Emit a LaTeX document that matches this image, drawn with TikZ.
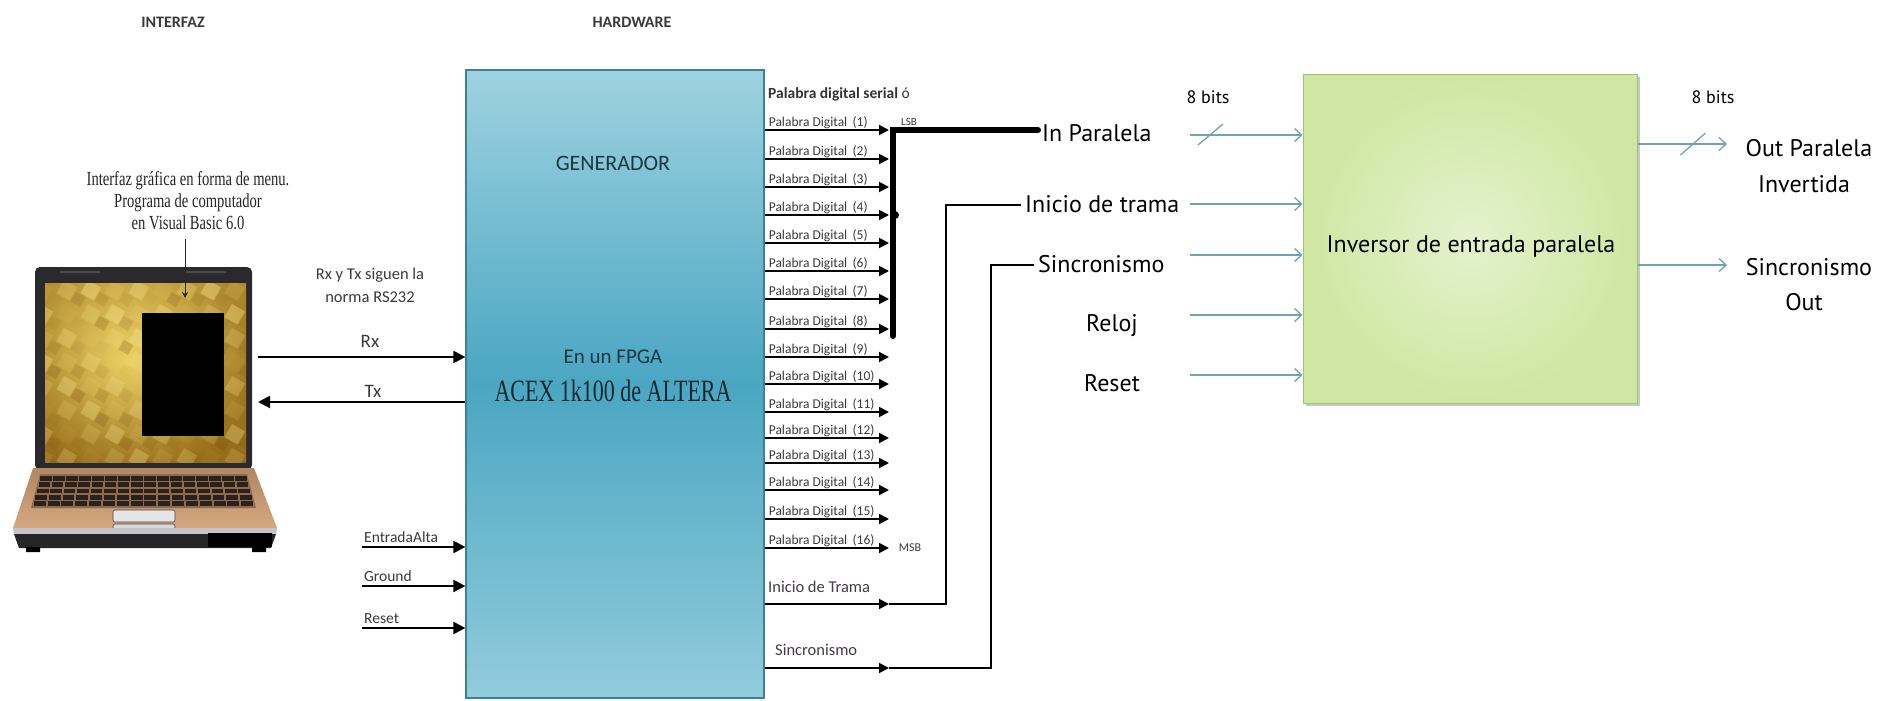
\documentclass[tikz,border=0pt]{standalone}
\usepackage{fontspec}
\setmainfont{Carlito}
\newfontfamily\serifface{Liberation Serif}
\newfontfamily\gillface{PT Sans}
\usetikzlibrary{arrows.meta,calc,shadows}
\newcommand{\fsz}[2]{\fontsize{#1}{#2}\selectfont}

\definecolor{fpgatop}{RGB}{158,210,224}
\definecolor{fpgamid}{RGB}{74,166,194}
\definecolor{fpgabot}{RGB}{146,204,220}
\definecolor{fpgaline}{RGB}{62,128,148}
\definecolor{fpgatext}{RGB}{28,56,66}
\definecolor{wireblue}{RGB}{112,162,180}
\definecolor{greenedge}{RGB}{206,231,162}
\definecolor{greencore}{RGB}{228,242,206}
\definecolor{greenline}{RGB}{158,194,110}
\definecolor{labelgray}{RGB}{58,58,62}
\definecolor{labelplum}{RGB}{70,58,74}
\definecolor{lidgray}{RGB}{42,42,46}
\definecolor{goldlight}{RGB}{248,222,110}
\definecolor{golddark}{RGB}{150,108,24}
\definecolor{tilelight}{RGB}{255,240,160}
\definecolor{tiledark}{RGB}{110,72,18}
\definecolor{bronzetop}{RGB}{176,134,100}
\definecolor{bronzebot}{RGB}{214,168,128}
\definecolor{keycol}{RGB}{44,32,26}
\definecolor{silver}{RGB}{196,196,200}

\begin{document}
\begin{tikzpicture}[x=1pt,y=-1pt,
  lbl/.style={inner sep=0, text=labelgray},
  gill/.style={font=\gillface\fsz{24}{28}, text=black, inner sep=4},
  gillsmall/.style={font=\gillface\fsz{18}{22}, text=black, inner sep=0},
  blkarrow/.style={draw=black, line width=1.8, -{Triangle[length=10pt,width=10pt]}},
  bigarrow/.style={draw=black, line width=2, -{Triangle[length=12pt,width=12pt]}},
  bluearrow/.style={draw=wireblue, line width=1.3, -{Straight Barb[length=7pt,width=13pt]}},
  bluetick/.style={draw=wireblue, line width=1.3},
  thinwire/.style={draw=black, line width=1.3},
  buswire/.style={draw=black, line width=6},
  fpgabox/.style={draw=fpgaline, line width=1.2, top color=fpgatop, bottom color=fpgabot,
    middle color=fpgamid, minimum width=298, minimum height=628, inner sep=0},
  invbox/.style={draw=greenline, line width=1, inner color=greencore, outer color=greenedge,
    minimum width=334, minimum height=329, inner sep=0,
    drop shadow={shadow xshift=3pt, shadow yshift=-3pt, opacity=0.35, fill=black!60}}]

\useasboundingbox (0,0) rectangle (1881,701);
\fill[white] (0,0) rectangle (1881,701);

% ---------- column titles ----------
\node[lbl, font=\bfseries\fsz{16}{18}, anchor=base] (tint) at (173,28) {INTERFAZ};
\node[lbl, font=\bfseries\fsz{16}{18}, anchor=base] (thw) at (632,28) {HARDWARE};

% ---------- laptop ----------
\node[inner sep=0, minimum width=217, minimum height=203] (lid) at (143.5,368.5) {};
\fill[lidgray, rounded corners=5] (35,267) rectangle (252,470);
\fill[gray!60!black] (60,271) rectangle (100,273) (186,271) rectangle (226,273);
\begin{scope}
  \clip (45,283) rectangle (246,462);
  \shade[inner color=goldlight, outer color=golddark] (10,240) rectangle (250,480);
  \foreach \i in {0,...,9} { \foreach \j in {0,...,8} {
    \pgfmathsetmacro{\oa}{0.06+0.32*mod(\i*7+\j*3,5)/4}
    \fill[tilelight, opacity=\oa, rotate around={-30:({40+\i*24},{280+\j*24})}]
      ({40+\i*24},{280+\j*24}) rectangle ++(15,15);
    \pgfmathsetmacro{\ob}{0.04+0.25*mod(\i*3+\j*5,4)/3}
    \fill[tiledark, opacity=\ob, rotate around={-30:({52+\i*24},{292+\j*24})}]
      ({52+\i*24},{292+\j*24}) rectangle ++(11,11);
  }}
  \shade[top color=goldlight, bottom color=golddark, opacity=0.25] (45,283) rectangle (246,462);
\end{scope}
\fill[black] (142,313) rectangle (224,436);
% base and keyboard
\shade[top color=bronzetop, bottom color=bronzebot] (33,468) -- (254,468) -- (277,528) -- (13,528) -- cycle;
\fill[bronzetop!80!black] (40,474) -- (247,474) -- (256,508) -- (31,508) -- cycle;
\foreach \r in {0,...,4} {
  \pgfmathsetmacro{\ya}{476+\r*6.3}
  \pgfmathsetmacro{\yb}{\ya+4.6}
  \pgfmathsetmacro{\xl}{40-9*(\ya-474)/34}
  \pgfmathsetmacro{\xr}{247+9*(\ya-474)/34}
  \pgfmathsetmacro{\kw}{(\xr-\xl)/16}
  \foreach \c in {0,...,15} {
    \fill[keycol] ({\xl+\c*\kw+0.9},\ya) rectangle ({\xl+(\c+1)*\kw-0.9},\yb);
  }
}
\fill[gray!20, rounded corners=2] (113,510) rectangle (175,522);
\draw[gray!55!black, rounded corners=2, line width=0.6] (113,510) rectangle (175,522);
\fill[gray!30, rounded corners=2] (113,524) rectangle (175,529);
\draw[gray!55!black, rounded corners=2, line width=0.6] (113,524) rectangle (175,529);
\fill[silver] (13,528) -- (277,528) -- (276,534) -- (14,534) -- cycle;
\fill[black!85] (14,534) -- (276,534) -- (271,548) -- (19,548) -- cycle;
\fill[black] (208,533) rectangle (272,547);
\fill[black] (26,547) rectangle (40,552) (252,547) rectangle (266,552);

% program note above the laptop
\node[inner sep=3, font=\serifface\fsz{20}{22}, text=black!85, anchor=base] (note) at (188,185)
  {\scalebox{0.73}[1]{\begin{tabular}[t]{@{}c@{}}Interfaz gráfica en forma de menu.\\
   Programa de computador\\ en Visual Basic 6.0\end{tabular}}};
\coordinate (notetip) at (185,298);
\draw[gray!30!black, line width=1, -{Stealth[length=6pt,width=6pt]}] (notetip |- note.south) -- (notetip);

% ---------- FPGA block ----------
\node[fpgabox] (fpga) at (615,384) {};
\node[inner sep=0, font=\fsz{22}{26}, text=fpgatext, anchor=base] (gen) at (613,170) {GENERADOR};
\node[inner sep=0, font=\fsz{21}{25}, text=fpgatext, anchor=base] (enfp) at (613,363) {En un FPGA};
\node[inner sep=0, font=\serifface\fsz{31}{34}, text=fpgatext!70!black, anchor=base] (acex) at (613,401)
  {\scalebox{0.71}[1]{ACEX 1k100 de ALTERA}};

% serial link
\node[lbl, font=\fsz{16.5}{20}, anchor=base] (rs1) at (370,279) {Rx y Tx siguen la};
\node[lbl, font=\fsz{16.5}{20}, anchor=base] (rs2) at (370,302) {norma RS232};
\coordinate (rxs) at (258,357);
\coordinate (txe) at (258,402);
\draw[bigarrow] (rxs) -- (rxs -| fpga.west);
\draw[bigarrow] (txe -| fpga.west) -- (txe);
\node[lbl, font=\fsz{19}{22}, anchor=base] (rxl) at (370,347) {Rx};
\node[lbl, font=\fsz{19}{22}, anchor=base] (txl) at (373,397) {Tx};

% control inputs
\foreach \nm/\yy/\tx in {ea/547/EntradaAlta, gn/586/Ground, rs/628/Reset} {
  \coordinate (\nm) at (362,\yy);
  \draw[bigarrow] (\nm) -- (\nm -| fpga.west);
  \node[lbl, font=\fsz{15.5}{18}, anchor=base west] (\nm l) at ($(\nm)+(2,-5)$) {\tx};
}

% ---------- parallel word outputs ----------
\node[lbl, font=\fsz{15.5}{18}, anchor=base west, text=black!80] (serial) at (768,98)
  {{\bfseries Palabra digital serial} ó};
\foreach \i/\yy in {1/130,2/159,3/187,4/215,5/243,6/271,7/299,8/329,
                    9/357,10/384,11/412,12/438,13/463,14/490,15/519,16/548} {
  \coordinate (pd\i) at (889,\yy);
  \draw[blkarrow] (pd\i -| fpga.east) -- (pd\i);
  \node[lbl, font=\fsz{13.5}{16}, anchor=base west] (pdl\i) at ($(pd\i -| fpga.east)+(4,-4)$)
    {Palabra Digital \,(\i)};
}
\node[lbl, font=\fsz{11}{13}, anchor=base] (lsb) at (909,125) {LSB};
\node[lbl, font=\fsz{12}{14}, anchor=base] (msb) at (910,551) {MSB};

% frame start and sync outputs
\coordinate (it0) at (889,604);
\coordinate (sy0) at (889,668);
\draw[blkarrow] (it0 -| fpga.east) -- (it0);
\draw[blkarrow] (sy0 -| fpga.east) -- (sy0);
\node[lbl, font=\fsz{16.5}{20}, text=labelplum, anchor=base west] (itf) at (768,592) {Inicio de Trama};
\node[lbl, font=\fsz{16.5}{20}, text=labelplum, anchor=base west] (syf) at (775,655) {Sincronismo};

% ---------- inverter inputs ----------
\node[gill, anchor=base west] (inpar) at (1038,141) {In Paralela};
\node[gill, anchor=base west] (itl) at (1021,212) {Inicio de trama};
\node[gill, anchor=base west] (syl) at (1034,272) {Sincronismo};
\node[gill, anchor=base] (rel) at (1112,331) {Reloj};
\node[gill, anchor=base] (rst) at (1112,391) {Reset};

% 8-bit bus gathering the low byte
\coordinate (bt) at (893,130);
\coordinate (bb) at (893,336);
\draw[buswire] (bb) -- (bt) -- (inpar.west |- bt) [line cap=round];
\fill ($(pd4 -| bt)+(2,0)$) circle (4);

% thin wires to the inverter labels
\coordinate (itc) at (946,205);
\coordinate (syc) at (991,265);
\draw[thinwire] (it0) -| (itc) -- (itl.west |- itc);
\draw[thinwire] (sy0) -| (syc) -- (syl.west |- syc);

% ---------- inverter block ----------
\node[invbox] (inv) at (1470,238.5) {};
\node[inner sep=0, font=\gillface\fsz{24}{28}, anchor=base] (invt) at (1471,252) {Inversor de entrada paralela};

\foreach \k/\yy in {1/135,2/204,3/255,4/315,5/375} {
  \coordinate (ba\k) at (1190,\yy);
  \draw[bluearrow] (ba\k) -- (ba\k -| inv.west);
}
\draw[bluetick] (ba1) ++(8,10) -- ++(25,-21);
\node[gillsmall, anchor=base] (nb1) at (1208,103) {8 bits};

% ---------- inverter outputs ----------
\coordinate (op1) at (1727,144);
\coordinate (op2) at (1727,265);
\draw[bluearrow] (op1 -| inv.east) -- (op1);
\draw[bluearrow] (op2 -| inv.east) -- (op2);
\draw[bluetick] (op1 -| inv.east) ++(43,11) -- ++(25,-22);
\node[gillsmall, anchor=base] (nb2) at (1713,103) {8 bits};
\node[gill, anchor=base, inner sep=0] (outp) at (1809,156) {Out Paralela};
\node[gill, anchor=base, inner sep=0] (outi) at (1804,192) {Invertida};
\node[gill, anchor=base, inner sep=0] (outs) at (1809,275) {Sincronismo};
\node[gill, anchor=base, inner sep=0] (outo) at (1804,310) {Out};

\end{tikzpicture}
\end{document}
